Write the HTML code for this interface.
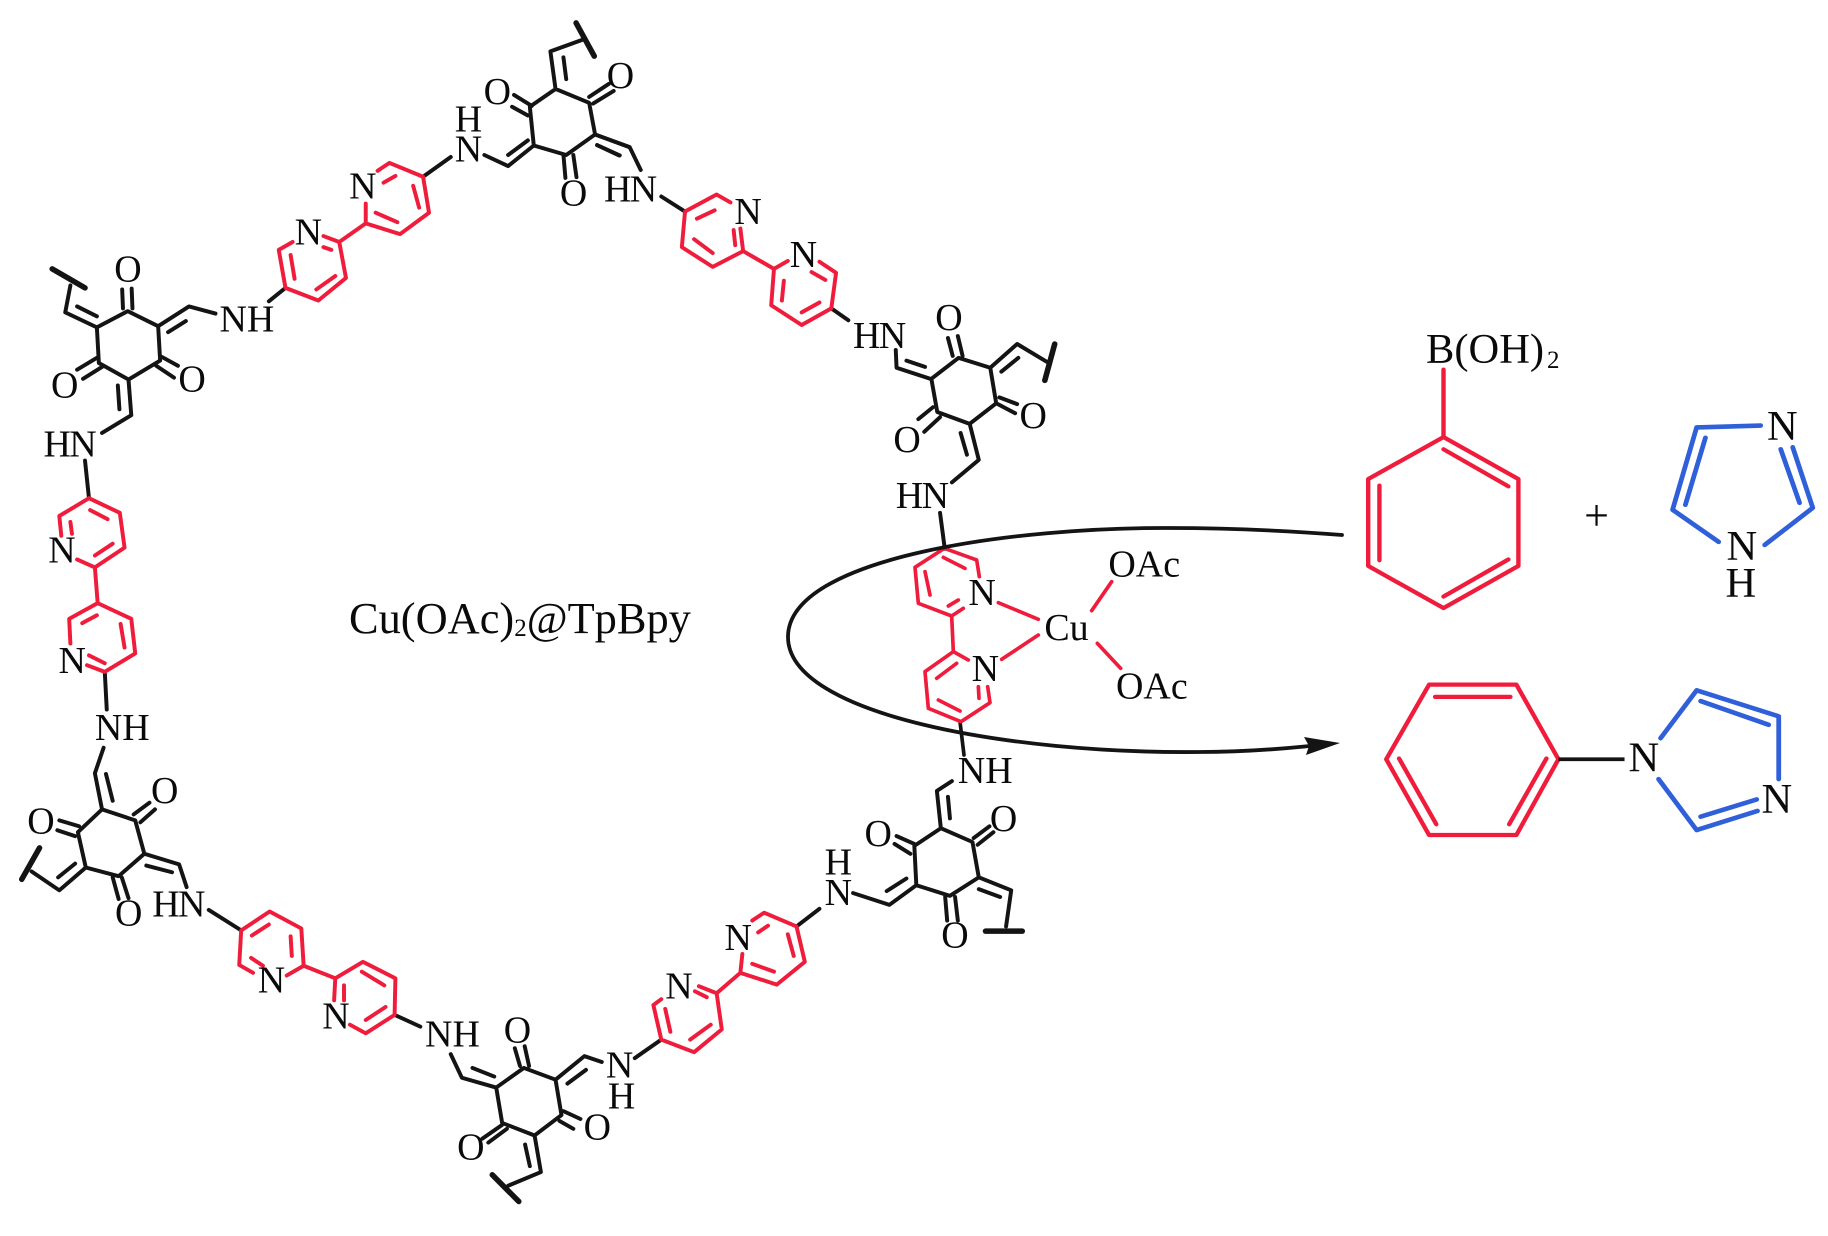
<!DOCTYPE html>
<html><head><meta charset="utf-8"><style>
html,body{margin:0;padding:0;background:#fff;width:1828px;height:1236px;overflow:hidden}
svg{display:block}
text{font-family:"Liberation Serif",serif;fill:#0a0a0a;stroke:none}
.k,.r,.b,.t{fill:none;stroke-linejoin:round;stroke-linecap:round}
.k{stroke:#141414;stroke-width:10}
.r{stroke:#f01c3c;stroke-width:10}
.t{stroke:#141414;stroke-width:14}
.z text{font-size:96px}
</style></head><body>
<svg width="1828" height="1236" viewBox="0 0 1828 1236" xmlns="http://www.w3.org/2000/svg">
<rect width="1828" height="1236" fill="#fff"/>

<!-- Z1 -->
<g class="z" transform="scale(.3954)">
<path class="k" d="M323 787L400 825L405 912L325 960L250 918L245 828Z
M311 780L309 732M335 780L333 730
M245 828L165 790L178 722M245 800L195 775
M400 825L478 775L545 793M425 840L470 812
M680 762L722 728
M1070 447L1140 397
M1225 392L1285 420L1350 368M1285 392L1335 355
M1405 225L1490 260L1505 340L1432 392L1350 368L1340 270Z
M1345 268L1300 240M1335 292L1295 270
M1425 392L1430 450M1450 392L1458 448
M1405 225L1392 130L1475 100M1432 200L1425 145
M1490 245L1540 212M1500 262L1552 230
M1505 340L1592 372M1510 367L1565 393
M245 905L195 935M258 928L210 958
M410 903L450 925M395 925L440 955
M325 960L332 1050L258 1095M298 975L302 1035
M215 1165L225 1260"/>
<path class="t" d="M132 680L215 728M1457 58L1503 142"/>
<path class="r" d="M740 612L705 632L722 728L805 760L875 703L858 612L818 597
M735 645L745 705M800 732L848 698M818 625L838 632
M858 612L925 565
M925 515L925 565L1012 592L1085 538L1070 447L985 412L955 432
M950 538L1005 562M1060 525L1045 470M970 462L1000 445
M225 1260L303 1297L315 1385L240 1435L195 1415M225 1260L150 1305L155 1355
M228 1290L272 1313M285 1375L240 1405M178 1320L182 1350
M240 1435L247 1525"/>
<text x="289" y="712">O</text><text x="555" y="838">NH</text>
<text x="745" y="618">N</text><text x="883" y="502">N</text>
<text x="1150" y="408">N</text><text x="1150" y="332">H</text>
<text x="1223" y="263">O</text><text x="1416" y="520">O</text>
<text x="129" y="1005">O</text><text x="451" y="990">O</text>
<text x="110" y="1155" letter-spacing="-4">HN</text>
<text x="122" y="1422">N</text>
</g>

<!-- Z2 -->
<g class="z" transform="translate(600,0) scale(.3954)">
<path class="k" d="M-13 340L75 372L103 430M-7 367L50 393
M155 497L215 535
M585 780L628 810
M748 885L750 930L835 958M775 912L822 928
M907 905L987 930L1002 1020L935 1072L853 1042L838 958Z
M880 855L892 900M905 850L917 900
M987 930L1055 870L1130 915M1015 940L1058 905
M1002 1020L1050 1045M1010 1005L1055 1022
M842 1030L805 1060M860 1055L820 1092
M935 1072L958 1163L890 1220M912 1095L928 1150
M860 1297L872 1388"/>
<path class="t" d="M1150 870L1125 962"/>
<path class="r" d="M330 512L295 492L215 535L207 625L285 675L362 635L355 578
M245 553L290 532M238 605L285 640M338 582L342 620
M362 635L440 680
M475 660L440 680L433 772L510 822L585 780L597 690L555 662
M465 710L460 760M510 790L555 765M535 688L570 708"/>
<text x="17" y="222">O</text>
<text x="10" y="510" letter-spacing="-4">HN</text>
<text x="340" y="567">N</text><text x="480" y="675">N</text>
<text x="640" y="880" letter-spacing="-4">HN</text>
<text x="848" y="835">O</text><text x="1061" y="1082">O</text><text x="742" y="1143">O</text>
<text x="748" y="1285" letter-spacing="-4">HN</text>
</g>

<!-- Z3 -->
<g class="z" transform="translate(0,620) scale(.3954,.3929)">
<path class="k" d="M265 132L270 228
M262 325L240 390L258 482M268 392L285 460
M258 482L342 510L365 595L300 652L217 630L197 540Z
M338 495L378 465M355 515L392 482
M200 525L150 510M190 550L145 535
M217 630L150 688L80 640M190 620L147 655
M285 655L300 710M308 655L325 708
M365 595L453 622L472 680M370 625L435 642
M528 738L610 790
M998 1005L1063 1035
M1140 1105L1168 1165L1255 1190M1195 1140L1250 1162
M1325 1140L1405 1170L1420 1260L1352 1312L1270 1280L1255 1190Z
M1302 1090L1315 1135M1327 1085L1338 1135
M1405 1170L1478 1110L1522 1125M1435 1180L1482 1145
M1425 1250L1468 1270M1415 1275L1450 1295
M1270 1285L1220 1320M1282 1295L1235 1330
M1352 1312L1368 1405L1285 1440M1328 1335L1340 1390"/>
<path class="t" d="M100 580L55 660M1245 1412L1312 1480"/>
<path class="r" d="M247 -43L175 -3L178 60M247 -43L332 -3L342 85L265 132L220 115
M208 8L245 -12M305 10L315 70M225 90L265 110
M725 905L768 880L762 785L682 742L610 790L605 878L640 898
M637 803L680 775M735 805L738 855M635 860L665 880
M768 880L848 912
M845 968L848 912L918 870L1000 912L998 1005L925 1052L885 1030
M915 895L972 930M975 985L925 1018M870 930L870 968"/>
<text x="148" y="135">N</text><text x="240" y="305">NH</text>
<text x="382" y="466">O</text><text x="69" y="543">O</text><text x="291" y="778">O</text>
<text x="385" y="755" letter-spacing="-4">HN</text>
<text x="652" y="948">N</text><text x="815" y="1040">N</text>
<text x="1075" y="1085">NH</text><text x="1274" y="1075">O</text>
<text x="1476" y="1322">O</text><text x="1156" y="1373">O</text>
</g>

<!-- Z4 -->
<g class="z" transform="translate(600,620) scale(.3954,.3929)">
<path class="k" d="M88 1115L155 1068
M497 780L555 735
M640 695L732 725L800 675M725 690L775 658
M862 530L942 565L958 655L885 702L800 675L795 575Z
M795 570L750 550M785 595L745 570
M945 555L985 525M955 572L995 540
M862 530L852 435L890 410M885 505L880 450
M873 705L878 765M898 705L905 765
M958 655L1040 688L1027 780M958 685L1012 705"/>
<path class="t" d="M975 792L1068 792"/>
<path class="r" d="M250 932L295 950L308 1042L238 1100L155 1068L135 980L155 965
M165 990L178 1048M228 1068L280 1030M240 945L270 960
M295 950L355 898
M360 850L355 898L447 928L518 870L497 780L415 745L385 765
M385 875L440 895M490 855L475 800M400 795L425 778"/>
<text x="15" y="1165">N</text><text x="20" y="1243">H</text>
<text x="165" y="963">N</text><text x="315" y="840">N</text>
<text x="568" y="725">N</text><text x="568" y="648">H</text>
<text x="669" y="575">O</text><text x="986" y="537">O</text>
<text x="905" y="415">NH</text><text x="863" y="833">O</text>
</g>

<!-- Cu complex Z6 -->
<g transform="translate(760,480) scale(.33333)" font-size="114">
<path class="k" style="stroke-width:11" d="M600 725L612 825"/>
<path class="r" style="stroke-width:11" d="M658 290L650 240L553 205L465 262L475 370L575 408L610 385
M550 232L615 265M495 275L510 345M565 378L595 360
M575 408L580 515
M625 540L580 515L495 575L505 685L603 725L690 668L683 620
M530 595L590 550M535 660L600 693M655 620L657 655
M715 368L835 418M725 538L835 465M995 392L1055 305M1012 490L1082 565"/>
<text x="625" y="375" font-size="114">N</text><text x="635" y="603" font-size="114">N</text>
<text x="853" y="480" font-size="114">Cu</text>
<text x="1045" y="290" font-size="114">OAc</text><text x="1068" y="655" font-size="114">OAc</text>
</g>

<!-- reaction arc -->
<path d="M1342 535C1290 531 1230 528 1170 528C1020 527 788 556 788 637C788 715 1010 754 1200 752C1240 752 1280 749 1310 746" fill="none" stroke="#141414" stroke-width="3.8" stroke-linecap="round"/>
<path d="M1340 743L1304 737L1309 746L1306 755Z" fill="#141414"/>

<!-- right molecules Z5 -->
<g transform="translate(1200,300) scale(.4005,.3827)">
<path class="r" style="stroke-width:11" d="M608 182L608 358
M608 358L795 468L795 695L608 805L420 695L420 468Z
M608 390L770 487M770 678L608 775M448 485L448 680
M572 1005L790 1005L895 1200L790 1398L572 1398L465 1200Z
M587 1037L775 1037M497 1198L590 1370M865 1198L772 1370"/>
<path fill="none" stroke="#2f5fd9" stroke-width="12" stroke-linejoin="round" stroke-linecap="round" d="M1400 328L1240 333L1180 548L1295 632
M1410 640L1530 543L1480 385M1262 360L1212 535M1450 390L1497 530
M1150 1145L1240 1020L1445 1088L1445 1252
M1145 1252L1240 1385L1392 1335M1250 1048L1420 1110M1250 1350L1390 1305"/>
<path fill="none" stroke="#141414" stroke-width="10" d="M895 1200L1060 1200"/>
</g>

<g font-size="42.5">
<text x="1426" y="363" font-size="42.5">B(OH)</text>
<text x="1547" y="368" font-size="25">2</text>
<text x="1596.5" y="530" font-size="44" text-anchor="middle">+</text>
<text x="1767" y="440" font-size="42.5">N</text>
<text x="1726.5" y="560" font-size="42.5">N</text>
<text x="1725.5" y="597" font-size="42.5">H</text>
<text x="1628.5" y="771.5" font-size="42.5">N</text>
<text x="1761.5" y="813" font-size="42.5">N</text>
</g>

<!-- title -->
<text x="349" y="633" font-size="44.4">Cu(OAc)<tspan font-size="25" dy="3">2</tspan><tspan dy="-3">@TpBpy</tspan></text>
</svg>
</body></html>
